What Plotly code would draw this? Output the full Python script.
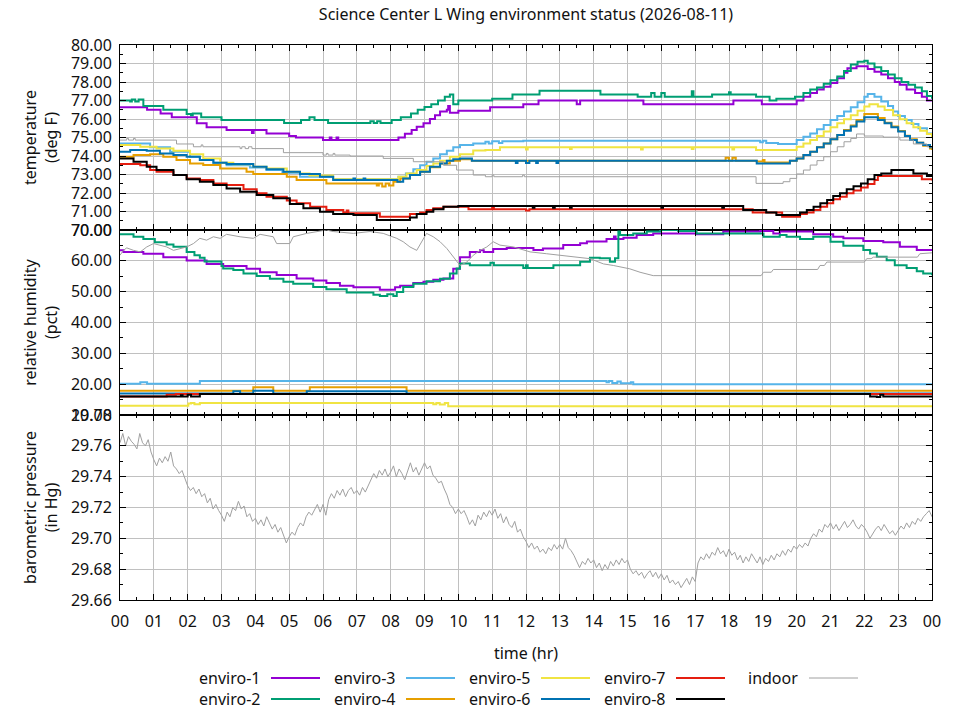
import plotly.graph_objects as go
from plotly.subplots import make_subplots

# --- data (hour of day, value) ---
hours = list(range(25))
hour_labels = ["%02d" % (h % 24) for h in hours]

e1_temp = [(0.00, 76.63), (0.80, 76.50), (1.20, 76.30), (1.53, 76.10), (2.27, 75.77), (2.56, 75.55),
           (3.15, 75.40), (3.90, 75.25), (3.95, 75.40), (4.33, 75.22), (5.00, 75.08), (5.20, 75.00),
           (6.00, 74.86), (6.20, 75.00), (6.25, 74.86), (6.40, 75.00), (6.45, 74.86), (8.23, 75.00),
           (8.42, 75.20), (8.62, 75.40), (8.77, 75.58), (8.97, 75.77), (9.16, 76.00), (9.31, 76.20),
           (9.46, 76.40), (9.66, 76.50), (9.70, 76.70), (9.75, 76.34), (10.00, 76.45), (10.94, 76.63),
           (11.92, 76.80), (12.37, 77.00), (13.50, 76.80), (13.60, 77.00), (15.47, 76.80), (18.13, 77.00),
           (18.97, 76.80), (20.00, 77.00), (20.20, 77.20), (20.40, 77.40), (20.60, 77.60), (20.80, 77.75),
           (21.00, 77.95), (21.20, 78.20), (21.40, 78.50), (21.50, 78.75), (21.77, 78.85), (22.10, 78.70),
           (22.30, 78.55), (22.50, 78.40), (22.70, 78.20), (22.90, 78.00), (23.05, 77.85), (23.25, 77.60),
           (23.50, 77.40), (23.70, 77.20), (23.85, 77.00), (24.00, 76.95)]

e2_temp = [(0.00, 77.00), (0.30, 76.95), (0.35, 77.05), (0.45, 76.95), (0.55, 77.05), (0.69, 76.70),
           (1.28, 76.50), (1.97, 76.27), (2.10, 76.20), (2.15, 76.30), (2.40, 76.10), (3.00, 75.95),
           (4.85, 75.78), (5.35, 75.95), (5.60, 76.10), (5.75, 75.95), (6.15, 75.78), (7.40, 75.88),
           (7.50, 75.78), (7.60, 75.88), (7.70, 75.78), (8.03, 75.95), (8.30, 76.10), (8.60, 76.30),
           (8.80, 76.50), (9.00, 76.65), (9.20, 76.80), (9.40, 77.00), (9.60, 77.20), (9.75, 77.33),
           (9.85, 76.80), (10.00, 77.00), (11.00, 77.10), (11.60, 77.33), (12.40, 77.53), (14.20, 77.33),
           (15.30, 77.20), (15.70, 77.40), (15.80, 77.20), (16.00, 77.40), (16.10, 77.20), (16.90, 77.50),
           (16.95, 77.20), (17.50, 77.33), (18.00, 77.45), (18.05, 77.33), (18.80, 77.20), (19.20, 77.00),
           (19.40, 77.10), (19.95, 77.20), (20.20, 77.40), (20.40, 77.60), (20.60, 77.70), (20.80, 77.90),
           (21.00, 78.10), (21.20, 78.30), (21.40, 78.60), (21.60, 78.95), (21.80, 79.10), (22.00, 79.15),
           (22.10, 79.00), (22.30, 78.80), (22.50, 78.60), (22.70, 78.40), (22.90, 78.20), (23.10, 78.00),
           (23.30, 77.85), (23.50, 77.70), (23.70, 77.50), (23.85, 77.25), (24.00, 77.10)]

e3_temp = [(0.00, 74.68), (0.89, 74.47), (1.48, 74.23), (2.07, 73.96), (2.36, 73.78), (2.76, 73.64),
           (3.15, 73.50), (3.84, 73.38), (4.33, 73.24), (4.80, 73.10), (5.32, 72.88), (6.30, 72.74),
           (8.23, 72.88), (8.45, 73.06), (8.67, 73.28), (8.87, 73.50), (9.06, 73.69), (9.26, 73.87),
           (9.46, 74.10), (9.66, 74.29), (9.85, 74.47), (10.05, 74.60), (10.44, 74.68), (10.80, 74.77),
           (10.90, 74.68), (11.00, 74.80), (11.20, 74.70), (11.30, 74.80), (11.92, 74.83), (18.92, 74.75),
           (19.00, 74.83), (19.10, 74.70), (19.45, 74.65), (20.00, 74.86), (20.20, 75.04), (20.40, 75.22),
           (20.60, 75.44), (20.80, 75.68), (21.00, 75.95), (21.20, 76.16), (21.40, 76.40), (21.60, 76.63),
           (21.80, 76.90), (22.00, 77.20), (22.10, 77.35), (22.30, 77.20), (22.50, 76.95), (22.70, 76.70),
           (22.85, 76.40), (23.00, 76.16), (23.20, 75.95), (23.40, 75.73), (23.60, 75.50), (23.85, 75.22),
           (24.00, 75.08)]

e4_temp = [(0.00, 73.96), (0.40, 74.05), (0.89, 74.10), (1.28, 73.96), (1.67, 73.78), (2.07, 73.60),
           (2.46, 73.51), (2.96, 73.33), (3.74, 73.15), (3.94, 73.03), (4.93, 72.88), (5.22, 72.70),
           (6.10, 72.52), (7.59, 72.40), (7.65, 72.52), (7.75, 72.35), (7.85, 72.52), (7.95, 72.40),
           (8.08, 72.61), (8.28, 72.79), (8.57, 72.97), (8.87, 73.15), (9.16, 73.39), (9.46, 73.60),
           (9.75, 73.75), (10.05, 73.82), (10.40, 73.75), (17.90, 73.90), (18.00, 73.75), (18.10, 73.90),
           (18.20, 73.75), (18.82, 73.70), (19.00, 73.78), (19.05, 73.65), (19.80, 73.75), (20.00, 73.87),
           (20.20, 74.05), (20.40, 74.23), (20.60, 74.47), (20.80, 74.68), (21.00, 74.90), (21.20, 75.14),
           (21.40, 75.40), (21.60, 75.65), (21.77, 75.95), (22.00, 76.27), (22.20, 76.27), (22.40, 76.05),
           (22.60, 75.80), (22.80, 75.60), (23.00, 75.35), (23.20, 75.10), (23.35, 74.90), (23.55, 74.72),
           (23.74, 74.55), (23.94, 74.40), (24.00, 74.32)]

e5_temp = [(0.00, 74.60), (0.60, 74.50), (1.08, 74.41), (1.58, 74.29), (2.07, 74.10), (2.46, 73.87),
           (2.96, 73.64), (3.35, 73.55), (3.94, 73.42), (4.33, 73.33), (4.93, 73.15), (5.32, 73.06),
           (5.60, 72.95), (6.30, 72.74), (8.23, 72.88), (8.47, 73.06), (8.77, 73.24), (9.06, 73.46),
           (9.26, 73.60), (9.46, 73.75), (9.75, 73.96), (10.05, 74.10), (10.44, 74.30), (10.80, 74.32),
           (11.23, 74.47), (12.00, 74.35), (12.05, 74.47), (13.30, 74.38), (13.35, 74.47), (15.40, 74.35),
           (15.45, 74.47), (16.90, 74.38), (16.95, 74.47), (18.10, 74.35), (18.15, 74.47), (18.80, 74.32),
           (20.00, 74.50), (20.20, 74.68), (20.40, 74.86), (20.60, 75.08), (20.80, 75.32), (21.00, 75.55),
           (21.20, 75.77), (21.40, 75.98), (21.60, 76.20), (21.80, 76.45), (22.00, 76.67), (22.15, 76.80),
           (22.40, 76.67), (22.60, 76.49), (22.85, 76.20), (23.05, 75.98), (23.25, 75.77), (23.45, 75.55),
           (23.65, 75.37), (23.85, 75.19), (24.00, 75.00)]

e6_temp = [(0.00, 74.23), (0.30, 74.32), (0.79, 74.28), (1.18, 74.14), (1.58, 74.05), (1.97, 73.96),
           (2.36, 73.78), (2.76, 73.64), (3.15, 73.57), (3.94, 73.42), (4.33, 73.28), (4.83, 73.15),
           (5.32, 73.03), (5.91, 72.88), (6.30, 72.70), (6.90, 72.79), (6.95, 72.70), (7.20, 72.79),
           (7.25, 72.70), (8.20, 72.61), (8.37, 72.79), (8.57, 72.97), (8.87, 73.15), (9.16, 73.42),
           (9.46, 73.60), (9.66, 73.75), (9.85, 73.82), (10.05, 73.87), (10.40, 73.75), (11.70, 73.62),
           (11.75, 73.75), (12.00, 73.62), (12.10, 73.75), (12.30, 73.62), (12.35, 73.75), (12.90, 73.62),
           (12.95, 73.75), (18.82, 73.60), (19.80, 73.75), (20.00, 73.87), (20.20, 74.05), (20.40, 74.23),
           (20.60, 74.47), (20.80, 74.68), (21.00, 74.90), (21.20, 75.14), (21.40, 75.37), (21.60, 75.59),
           (21.77, 75.86), (22.00, 76.09), (22.20, 76.09), (22.40, 75.95), (22.60, 75.77), (22.80, 75.55),
           (23.00, 75.32), (23.20, 75.08), (23.35, 74.86), (23.55, 74.72), (23.74, 74.60), (23.94, 74.47),
           (24.00, 74.45)]

e7_temp = [(0.00, 73.57), (0.60, 73.50), (0.89, 73.24), (1.08, 73.15), (1.58, 72.97), (1.97, 72.79),
           (2.36, 72.70), (2.76, 72.52), (3.15, 72.43), (3.65, 72.20), (4.04, 71.98), (4.33, 71.80),
           (4.93, 71.59), (5.22, 71.44), (5.62, 71.26), (6.10, 71.08), (6.60, 70.94), (6.70, 71.05),
           (6.75, 70.90), (7.68, 70.72), (8.57, 70.86), (8.87, 70.94), (9.06, 71.08), (9.26, 71.17),
           (9.56, 71.26), (10.00, 71.26), (10.30, 71.12), (11.00, 71.20), (11.05, 71.12), (12.00, 71.05),
           (12.10, 71.12), (18.70, 70.94), (19.57, 70.72), (20.10, 70.86), (20.30, 70.94), (20.50, 71.08),
           (20.70, 71.26), (20.90, 71.44), (21.08, 71.66), (21.28, 71.80), (21.48, 71.98), (21.68, 72.13),
           (21.90, 72.30), (22.10, 72.48), (22.30, 72.70), (22.40, 72.92), (23.70, 72.74), (24.00, 72.67)]

e8_temp = [(0.00, 73.87), (0.40, 73.69), (0.79, 73.42), (1.08, 73.24), (1.58, 72.97), (1.97, 72.74),
           (2.36, 72.61), (2.76, 72.43), (3.15, 72.25), (3.55, 72.07), (4.04, 71.89), (4.53, 71.71),
           (5.02, 71.41), (5.42, 71.17), (5.91, 70.99), (6.30, 70.86), (6.90, 70.81), (7.59, 70.54),
           (8.57, 70.68), (8.77, 70.86), (9.06, 70.99), (9.26, 71.12), (9.56, 71.26), (10.00, 71.30),
           (12.20, 71.20), (12.25, 71.30), (12.80, 71.20), (12.85, 71.30), (13.30, 71.20), (13.35, 71.30),
           (16.00, 71.20), (16.05, 71.30), (17.80, 71.20), (17.85, 71.30), (18.42, 71.08), (19.10, 70.94),
           (19.40, 70.81), (20.10, 70.94), (20.30, 71.08), (20.50, 71.26), (20.70, 71.44), (20.90, 71.62),
           (21.08, 71.84), (21.28, 71.98), (21.48, 72.20), (21.68, 72.37), (21.90, 72.52), (22.10, 72.74),
           (22.30, 72.97), (22.50, 73.06), (22.80, 73.24), (23.45, 73.06), (23.85, 72.92), (24.00, 72.88)]

indoor_temp = [(0.00, 74.86), (0.20, 74.95), (0.25, 74.86), (0.40, 74.95), (0.45, 74.86), (1.67, 74.65),
               (2.17, 74.50), (2.40, 74.60), (2.45, 74.50), (3.55, 74.40), (3.60, 74.50), (3.70, 74.40),
               (3.80, 74.50), (3.90, 74.40), (4.83, 74.18), (6.00, 74.05), (6.10, 74.14), (6.15, 74.05),
               (6.30, 74.14), (6.35, 74.05), (6.80, 74.00), (7.78, 73.87), (8.67, 73.69), (9.56, 73.50),
               (9.95, 73.24), (10.44, 72.97), (10.80, 72.88), (11.00, 72.97), (11.05, 72.88), (11.90, 72.97),
               (11.95, 72.88), (18.80, 72.52), (19.60, 72.61), (19.80, 72.79), (20.00, 73.03), (20.20, 73.24),
               (20.40, 73.51), (20.60, 73.75), (20.80, 73.96), (21.00, 74.23), (21.20, 74.50), (21.40, 74.77),
               (21.60, 74.95), (21.77, 75.19), (22.00, 75.08), (22.56, 75.02), (23.05, 74.86), (23.45, 74.65),
               (23.85, 74.50), (24.00, 74.45)]

e1_rh = [(0.00, 63.4), (0.10, 62.9), (0.69, 62.3), (1.28, 61.2), (1.97, 60.1), (2.56, 59.0), (3.05, 58.3),
         (3.74, 57.4), (4.14, 56.3), (4.63, 55.4), (5.22, 54.3), (5.71, 53.6), (6.10, 52.8), (6.50, 51.9),
         (6.90, 51.4), (7.68, 50.6), (8.13, 51.4), (8.28, 51.9), (8.67, 52.8), (8.97, 53.2), (9.26, 53.9),
         (9.56, 54.3), (9.85, 57.4), (10.05, 61.2), (10.34, 62.9), (10.64, 63.4), (10.75, 62.9), (11.03, 63.8),
         (11.43, 64.2), (12.22, 63.5), (12.50, 64.0), (13.10, 65.1), (13.60, 65.7), (13.80, 66.3), (14.38, 67.1),
         (14.60, 67.9), (14.65, 67.1), (14.88, 67.5), (15.27, 68.4), (15.76, 68.9), (17.04, 68.6), (17.83, 69.5),
         (18.92, 69.7), (19.31, 68.9), (19.50, 69.5), (20.49, 68.6), (21.08, 67.8), (21.38, 67.3), (21.97, 66.4),
         (22.56, 66.0), (23.05, 64.6), (23.55, 63.5), (24.00, 63.5)]

e2_rh = [(0.00, 68.6), (0.40, 67.8), (0.69, 67.1), (1.03, 66.0), (1.38, 65.3), (1.58, 64.6), (1.97, 62.9),
         (2.20, 61.8), (2.36, 61.0), (2.50, 59.8), (3.00, 58.3), (3.05, 57.5), (3.35, 57.0), (3.65, 55.9),
         (4.04, 55.1), (4.43, 54.2), (4.83, 53.2), (5.12, 52.6), (5.71, 51.5), (6.10, 50.8), (6.70, 49.7),
         (7.49, 49.0), (7.68, 48.6), (7.90, 49.2), (8.08, 48.6), (8.18, 49.9), (8.37, 51.5), (8.67, 52.6),
         (9.06, 53.4), (9.46, 54.2), (9.75, 55.9), (9.95, 57.5), (10.05, 59.1), (10.34, 58.6), (10.95, 59.4),
         (11.05, 58.6), (11.92, 57.7), (12.00, 58.6), (12.05, 57.7), (12.81, 58.6), (13.60, 59.7), (13.89, 61.0),
         (14.18, 60.8), (14.48, 59.7), (14.63, 60.8), (14.73, 69.5), (14.78, 68.4), (15.17, 68.9), (15.57, 69.5),
         (15.96, 70.0), (16.50, 69.7), (17.04, 68.9), (19.02, 67.8), (19.50, 68.4), (19.70, 67.8), (20.10, 67.1),
         (20.49, 67.8), (21.00, 66.2), (21.38, 64.9), (21.97, 63.5), (22.17, 62.4), (22.37, 61.3), (22.66, 60.2),
         (22.90, 58.6), (23.25, 57.7), (23.55, 56.6), (23.74, 55.9), (24.00, 55.3)]

e3_rh = [(0.00, 20.1), (0.60, 20.6), (0.80, 20.1), (2.36, 21.0), (14.38, 20.6), (14.45, 21.0), (14.55, 20.4),
         (14.70, 20.9), (14.80, 20.3), (15.10, 20.6), (15.17, 20.0), (24.00, 20.0)]
e4_rh = [(0.00, 17.9), (3.94, 19.0), (4.53, 17.9), (5.61, 19.0), (8.47, 17.9), (24.00, 17.9)]
e5_rh = [(0.00, 13.0), (2.02, 13.7), (2.10, 13.9), (2.20, 13.5), (2.36, 13.9), (9.26, 13.5), (9.35, 13.9),
         (9.45, 13.4), (9.60, 13.9), (9.70, 12.8), (24.00, 12.8)]
e6_rh = [(0.00, 17.0), (3.35, 17.7), (3.55, 17.0), (3.94, 17.9), (4.53, 17.0), (5.52, 17.7), (8.47, 17.0),
         (24.00, 17.0)]
e7_rh = [(0.00, 16.0), (1.38, 16.6), (1.65, 16.8), (24.00, 16.8)]
e8_rh = [(0.00, 16.0), (1.80, 16.4), (1.85, 16.0), (2.00, 16.6), (2.10, 16.0), (2.36, 16.8), (22.17, 16.0),
         (22.37, 15.8), (22.47, 16.6), (22.56, 16.0), (24.00, 16.0)]

indoor_rh = [(0.00, 61.8), (0.10, 63.4), (0.20, 64.2), (0.40, 63.4), (0.60, 62.9), (0.79, 64.5), (0.99, 65.6),
             (1.18, 65.1), (1.38, 64.5), (1.58, 63.4), (1.77, 64.0), (1.97, 64.5), (2.17, 65.6), (2.36, 67.3),
             (2.56, 66.7), (2.76, 67.8), (2.96, 67.3), (3.15, 68.6), (3.55, 67.8), (3.94, 67.3), (4.14, 68.6),
             (4.53, 67.8), (4.63, 65.6), (5.02, 65.6), (5.12, 67.8), (5.52, 68.9), (6.10, 70.0), (6.30, 69.5),
             (6.90, 68.9), (7.39, 69.5), (7.78, 68.9), (8.18, 67.3), (8.37, 66.2), (8.57, 64.5), (8.77, 63.4),
             (8.92, 66.2), (9.06, 68.9), (9.26, 67.8), (9.46, 66.2), (9.66, 64.0), (9.85, 61.2), (10.05, 58.5),
             (10.25, 59.6), (10.44, 61.8), (10.64, 63.4), (10.84, 64.5), (11.03, 66.2), (11.23, 65.1),
             (11.63, 64.5), (12.12, 62.9), (12.61, 62.3), (13.40, 61.2), (13.89, 60.7), (14.29, 59.0),
             (14.58, 58.5), (15.07, 57.4), (15.37, 56.3), (15.76, 55.2), (18.95, 55.2), (19.02, 56.3),
             (19.25, 56.3), (19.31, 57.2), (20.62, 57.2), (20.69, 58.5), (20.82, 58.5), (20.89, 59.6),
             (22.00, 59.6), (22.07, 60.7), (22.20, 60.7), (22.27, 61.2), (23.57, 61.2), (23.64, 62.3),
             (24.00, 62.6)]

# indoor barometric pressure, one reading every 5 minutes
pressure = [
    29.762, 29.768, 29.760, 29.766, 29.763, 29.761, 29.758, 29.768, 29.762, 29.760, 29.764, 29.756,
    29.751, 29.747, 29.752, 29.749, 29.753, 29.750, 29.756, 29.747, 29.745, 29.742, 29.744, 29.739,
    29.734, 29.731, 29.733, 29.729, 29.732, 29.727, 29.729, 29.723, 29.726, 29.719, 29.722, 29.718,
    29.715, 29.711, 29.717, 29.714, 29.720, 29.718, 29.724, 29.719, 29.721, 29.714, 29.716, 29.711,
    29.713, 29.709, 29.712, 29.708, 29.714, 29.710, 29.706, 29.709, 29.704, 29.707, 29.702, 29.697,
    29.701, 29.704, 29.702, 29.707, 29.710, 29.708, 29.714, 29.717, 29.715, 29.719, 29.722, 29.717,
    29.722, 29.715, 29.725, 29.729, 29.726, 29.731, 29.728, 29.732, 29.727, 29.731, 29.733, 29.729,
    29.731, 29.728, 29.733, 29.730, 29.734, 29.738, 29.742, 29.739, 29.744, 29.741, 29.745, 29.740,
    29.743, 29.747, 29.740, 29.745, 29.742, 29.738, 29.744, 29.749, 29.743, 29.746, 29.741, 29.745,
    29.749, 29.745, 29.747, 29.741, 29.739, 29.736, 29.737, 29.732, 29.728, 29.722, 29.720, 29.716,
    29.719, 29.716, 29.718, 29.714, 29.709, 29.712, 29.708, 29.715, 29.712, 29.717, 29.714, 29.718,
    29.715, 29.719, 29.713, 29.716, 29.710, 29.714, 29.709, 29.707, 29.711, 29.704, 29.706, 29.701,
    29.698, 29.694, 29.697, 29.693, 29.695, 29.691, 29.693, 29.690, 29.694, 29.692, 29.696, 29.693,
    29.696, 29.693, 29.700, 29.694, 29.692, 29.689, 29.685, 29.681, 29.685, 29.683, 29.687, 29.684,
    29.686, 29.681, 29.684, 29.679, 29.683, 29.680, 29.685, 29.682, 29.686, 29.683, 29.687, 29.684,
    29.686, 29.680, 29.677, 29.679, 29.676, 29.678, 29.674, 29.677, 29.679, 29.675, 29.678, 29.674,
    29.677, 29.673, 29.676, 29.671, 29.673, 29.670, 29.672, 29.668, 29.671, 29.674, 29.670, 29.675,
    29.672, 29.684, 29.688, 29.686, 29.690, 29.687, 29.691, 29.689, 29.694, 29.690, 29.692, 29.688,
    29.693, 29.689, 29.691, 29.686, 29.689, 29.684, 29.688, 29.685, 29.690, 29.687, 29.684, 29.688,
    29.683, 29.687, 29.685, 29.689, 29.686, 29.690, 29.688, 29.692, 29.689, 29.693, 29.691, 29.695,
    29.693, 29.696, 29.694, 29.697, 29.695, 29.700, 29.703, 29.701, 29.706, 29.704, 29.709, 29.707,
    29.710, 29.706, 29.709, 29.705, 29.708, 29.711, 29.707, 29.709, 29.712, 29.708, 29.706, 29.709,
    29.707, 29.704, 29.700, 29.703, 29.706, 29.708, 29.705, 29.709, 29.706, 29.703, 29.705, 29.702,
    29.705, 29.708, 29.706, 29.710, 29.707, 29.711, 29.709, 29.713, 29.711, 29.714, 29.716, 29.718,
    29.714]
pressure_t = [i / 12 for i in range(len(pressure))]

names = ["enviro-1", "enviro-2", "enviro-3", "enviro-4", "enviro-5", "enviro-6", "enviro-7", "enviro-8"]
colors = ["#9400d3", "#009e73", "#56b4e9", "#e69f00", "#f0e442", "#0072b2", "#e51e10", "#000000"]
temps = [e1_temp, e2_temp, e3_temp, e4_temp, e5_temp, e6_temp, e7_temp, e8_temp]
hums = [e1_rh, e2_rh, e3_rh, e4_rh, e5_rh, e6_rh, e7_rh, e8_rh]
indoor_color = "#a0a0a0"


def xy(pairs):
    return [p[0] for p in pairs], [p[1] for p in pairs]


fig = make_subplots(rows=3, cols=1, shared_xaxes=True, vertical_spacing=0)

for name, col, tp, rh in zip(names, colors, temps, hums):
    x, y = xy(tp)
    fig.add_trace(go.Scatter(x=x, y=y, mode="lines", name=name, line=dict(color=col, width=2, shape="hv"),
                             showlegend=False), row=1, col=1)
    x, y = xy(rh)
    fig.add_trace(go.Scatter(x=x, y=y, mode="lines", name=name, line=dict(color=col, width=2, shape="hv"),
                             showlegend=False), row=2, col=1)

x, y = xy(indoor_temp)
fig.add_trace(go.Scatter(x=x, y=y, mode="lines", name="indoor", line=dict(color=indoor_color, width=1, shape="hv"),
                         showlegend=False), row=1, col=1)
x, y = xy(indoor_rh)
fig.add_trace(go.Scatter(x=x, y=y, mode="lines", name="indoor", line=dict(color=indoor_color, width=1),
                         showlegend=False), row=2, col=1)
fig.add_trace(go.Scatter(x=pressure_t, y=pressure, mode="lines", name="indoor",
                         line=dict(color=indoor_color, width=1), showlegend=False), row=3, col=1)

# gnuplot-ish axes: boxed, inside ticks, grid on major ticks
font = "Noto Sans"
tick_font = dict(family=font, size=16, color="#111")
fig.update_xaxes(range=[0, 24], tickmode="array", tickvals=hours, ticktext=hour_labels,
                 ticks="inside", ticklen=6, tickcolor="black", tickwidth=1, ticklabelstandoff=7,
                 minor=dict(tickmode="array", tickvals=[h + 0.5 for h in range(24)], ticks="inside",
                            ticklen=3, tickcolor="black", showgrid=False),
                 showline=True, linecolor="black", linewidth=1, mirror="allticks",
                 showgrid=True, gridcolor="#c0c0c0", gridwidth=1, zeroline=False, tickfont=tick_font)
fig.update_xaxes(title=dict(text="time (hr)", font=tick_font, standoff=16), row=3, col=1)

yax = dict(ticks="inside", ticklen=6, tickcolor="black", tickwidth=1, showline=True, linecolor="black",
           linewidth=1, mirror="allticks", showgrid=True, gridcolor="#c0c0c0", gridwidth=1, zeroline=False,
           tickfont=tick_font, tickformat=".2f", ticklabelstandoff=4)
fig.update_yaxes(range=[70, 80], dtick=1, minor=dict(dtick=0.5, ticks="inside", ticklen=3, tickcolor="black"),
                 title=dict(text="temperature<br>(deg F)", font=tick_font, standoff=9), row=1, col=1, **yax)
fig.update_yaxes(range=[10, 70], dtick=10, minor=dict(dtick=5, ticks="inside", ticklen=3, tickcolor="black"),
                 title=dict(text="relative humidity<br>(pct)", font=tick_font, standoff=9), row=2, col=1, **yax)
fig.update_yaxes(range=[29.66, 29.78], dtick=0.02,
                 minor=dict(dtick=0.01, ticks="inside", ticklen=3, tickcolor="black"),
                 title=dict(text="barometric pressure<br>(in Hg)", font=tick_font, standoff=9), row=3, col=1, **yax)

# legend drawn gnuplot style: label, then line sample (positions in page pixels)
plot_l, plot_r, plot_t, plot_b = 120, 932, 45, 600
page_off = 8  # the page body margin shifts the figure by this much


def px(v):
    return (v - plot_l) / (plot_r - plot_l)


def py(v):
    return (plot_b - v) / (plot_b - plot_t)


legend_items = list(zip(names, colors, [2] * 8)) + [("indoor", indoor_color, 1)]
for i, (name, col, w) in enumerate(legend_items):
    c, r = divmod(i, 2)
    text_r = 262 + 135 * c
    if name == "indoor":
        text_r, r = 800, 0
    row_y = 678 + 21 * r
    fig.add_annotation(x=px(text_r), y=py(row_y), xref="paper", yref="paper", text=name, showarrow=False,
                       xanchor="right", yanchor="middle", font=dict(family=font, size=16, color="#111"))
    fig.add_shape(type="line", xref="paper", yref="paper", x0=px(text_r + 9), x1=px(text_r + 58),
                  y0=py(row_y), y1=py(row_y), line=dict(color=col, width=w))

fig.update_layout(
    width=960, height=720,
    margin=dict(l=plot_l - page_off, r=960 - plot_r + page_off, t=plot_t - page_off,
                b=720 - plot_b + page_off),
    paper_bgcolor="white", plot_bgcolor="white",
    font=dict(family=font, size=16, color="#111"),
    title=dict(text="Science Center L Wing environment status (2026-08-11)", x=0.5, xref="paper",
               y=1 - (14 - page_off) / 720, yref="container", yanchor="middle",
               font=dict(family=font, size=16, color="#111")),
    showlegend=False,
)

fig.write_html("out.html")
